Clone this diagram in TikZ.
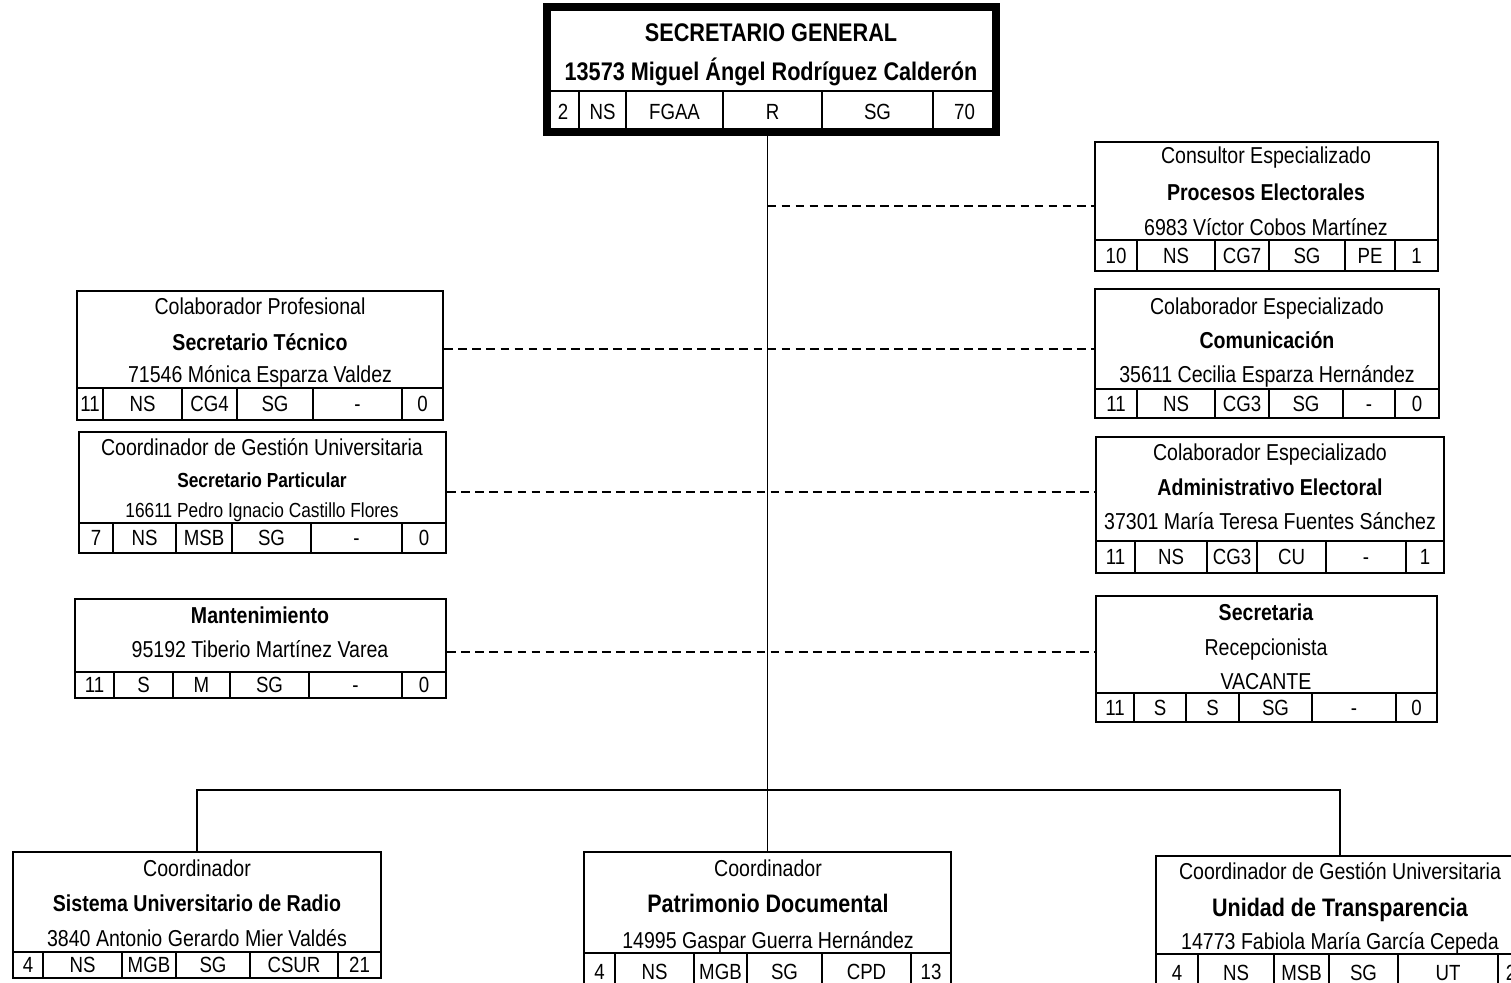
\documentclass[tikz,border=0pt]{standalone}
\usepackage{fontspec}
\setmainfont{Liberation Sans}[FakeStretch=0.85]
\usetikzlibrary{fit}

% one row of code cells under a box
\newcommand{\cellrow}[4]{%
  \foreach \xa/\xb/\lbl [count=\i] in {#4} {%
    \node[cell,fit={(\xa,#2) (\xb,#3)}] (#1_c\i) {};
    \node[celltxt] (#1_t\i) at (#1_c\i.center) {\lbl};}}

\begin{document}
\begin{tikzpicture}[x=0.02cm,y=-0.02cm,
  box/.style={draw,line width=1.5pt,inner sep=0pt},
  cell/.style={draw,line width=1.1pt,inner sep=0pt},
  celltxt/.style={inner sep=0pt,text height=8.9pt,text depth=0pt,font=\fontsize{12.5}{14}\selectfont},
  txt/.style={inner sep=0pt,text height=9.4pt,text depth=0pt,font=\fontsize{13.1}{15}\selectfont},
  head/.style={txt,font=\bfseries\fontsize{13.1}{15}\selectfont},
  link/.style={line width=1.1pt},
  dashline/.style={line width=1.1pt,dash pattern=on 5pt off 3pt}]
\useasboundingbox (0,0) rectangle (1511,983);
\clip (0,0) rectangle (1511,983);

% secretario general
\node[box,line width=4.5pt,fit={(547,7) (996,132)}] (sg) {};
\node[head,text height=10.4pt,font=\bfseries\fontsize{14.5}{16}\selectfont] (sg_title) at (771,32) {SECRETARIO GENERAL};
\node[head,text height=10.4pt,font=\bfseries\fontsize{14.5}{16}\selectfont] (sg_name) at (771,71) {13573 Miguel Ángel Rodríguez Calderón};
\cellrow{sg}{91}{132}{547/579/2,579/626/NS,626/723/FGAA,723/822/R,822/933/SG,933/996/70}

% right column
\node[box,fit={(1095,142) (1438,271)}] (proc) {};
\node[txt] (proc_role) at (1266,155) {Consultor Especializado};
\node[head] (proc_area) at (1266,192) {Procesos Electorales};
\node[txt] (proc_name) at (1266,227) {6983 Víctor Cobos Martínez};
\cellrow{proc}{240}{271}{1095/1137/10,1137/1215/NS,1215/1269/CG7,1269/1345/SG,1345/1395/PE,1395/1438/1}

\node[box,fit={(1095,289) (1439,418)}] (comu) {};
\node[txt] (comu_role) at (1267,306) {Colaborador Especializado};
\node[head] (comu_area) at (1267,340) {Comunicación};
\node[txt] (comu_name) at (1267,374) {35611 Cecilia Esparza Hernández};
\cellrow{comu}{389}{418}{1095/1137/11,1137/1215/NS,1215/1269/CG3,1269/1343/SG,1343/1395/-,1395/1439/0}

\node[box,fit={(1096,437) (1444,573)}] (admin) {};
\node[txt] (admin_role) at (1270,452) {Colaborador Especializado};
\node[head] (admin_area) at (1270,487) {Administrativo Electoral};
\node[txt] (admin_name) at (1270,521) {37301 María Teresa Fuentes Sánchez};
\cellrow{admin}{541}{573}{1096/1135/11,1135/1207/NS,1207/1257/CG3,1257/1326/CU,1326/1406/-,1406/1444/1}

\node[box,fit={(1096,596) (1437,722)}] (recep) {};
\node[head] (recep_area) at (1266,612) {Secretaria};
\node[txt] (recep_role) at (1266,647) {Recepcionista};
\node[txt] (recep_name) at (1266,681) {VACANTE};
\cellrow{recep}{693}{722}{1096/1134/11,1134/1186/S,1186/1239/S,1239/1312/SG,1312/1396/-,1396/1437/0}

% left column
\node[box,fit={(77,291) (443,420)}] (stec) {};
\node[txt] (stec_role) at (260,306) {Colaborador Profesional};
\node[head] (stec_area) at (260,342) {Secretario Técnico};
\node[txt] (stec_name) at (260,374) {71546 Mónica Esparza Valdez};
\cellrow{stec}{388}{420}{77/103/11,103/182/NS,182/237/CG4,237/313/SG,313/402/-,402/443/0}

\node[box,fit={(79,432) (446,553)}] (spart) {};
\node[txt] (spart_role) at (262,447) {Coordinador de Gestión Universitaria};
\node[head,text height=8.3pt,font=\bfseries\fontsize{11.6}{13}\selectfont] (spart_area) at (262,480) {Secretario Particular};
\node[txt,text height=8.3pt,font=\fontsize{11.6}{13}\selectfont] (spart_name) at (262,510) {16611 Pedro Ignacio Castillo Flores};
\cellrow{spart}{523}{553}{79/113/7,113/176/NS,176/232/MSB,232/311/SG,311/402/-,402/446/0}

\node[box,fit={(75,599) (446,698)}] (mant) {};
\node[head] (mant_area) at (260,615) {Mantenimiento};
\node[txt] (mant_name) at (260,649) {95192 Tiberio Martínez Varea};
\cellrow{mant}{672}{698}{75/114/11,114/173/S,173/230/M,230/309/SG,309/402/-,402/446/0}

% bottom row
\node[box,fit={(13,852) (381,978)}] (radio) {};
\node[txt] (radio_role) at (197,868) {Coordinador};
\node[head] (radio_area) at (197,903) {Sistema Universitario de Radio};
\node[txt] (radio_name) at (197,938) {3840 Antonio Gerardo Mier Valdés};
\cellrow{radio}{952}{978}{13/43/4,43/122/NS,122/176/MGB,176/250/SG,250/338/CSUR,338/381/21}

\node[box,fit={(584,852) (951,990)}] (patr) {};
\node[txt] (patr_role) at (768,868) {Coordinador};
\node[head,text height=10.3pt,font=\bfseries\fontsize{14.4}{16}\selectfont] (patr_area) at (768,903) {Patrimonio Documental};
\node[txt] (patr_name) at (768,940) {14995 Gaspar Guerra Hernández};
\cellrow{patr}{953}{990}{584/615/4,615/694/NS,694/747/MGB,747/822/SG,822/911/CPD,911/951/13}

\node[box,fit={(1156,856) (1524,992)}] (transp) {};
\node[txt] (transp_role) at (1340,871) {Coordinador de Gestión Universitaria};
\node[head,text height=10.3pt,font=\bfseries\fontsize{14.4}{16}\selectfont] (transp_area) at (1340,907) {Unidad de Transparencia};
\node[txt] (transp_name) at (1340,941) {14773 Fabiola María García Cepeda};
\cellrow{transp}{954}{992}{1156/1198/4,1198/1274/NS,1274/1329/MSB,1329/1398/SG,1398/1498/UT,1498/1524/2}

% connectors
\coordinate (bus) at (768,790);
\draw[link] (sg.south -| patr.north) -- (patr.north);
\draw[link] (radio.north) -- (radio.north |- bus) -- (transp.north |- bus) -- (transp.north);
\draw[dashline] (patr.north |- 0,206) -- (proc.west |- 0,206);
\draw[dashline] (stec.east |- 0,349) -- (comu.west |- 0,349);
\draw[dashline] (spart.east |- 0,492) -- (admin.west |- 0,492);
\draw[dashline] (mant.east |- 0,652) -- (recep.west |- 0,652);
\end{tikzpicture}
\end{document}
